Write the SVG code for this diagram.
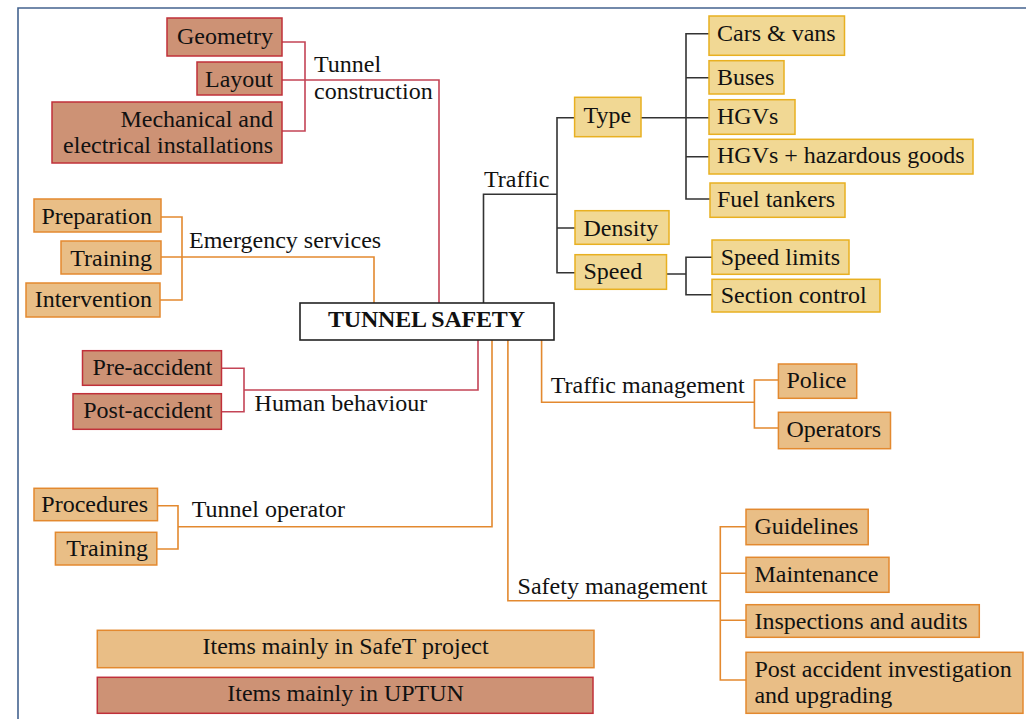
<svg xmlns="http://www.w3.org/2000/svg" width="1026" height="719" viewBox="0 0 1026 719">
  <style>
    text { font-family: "Liberation Serif", "Times New Roman", serif; font-size: 24px; fill: #111; }
    .end { text-anchor: end; }
    .mid { text-anchor: middle; }
    .red rect { fill: #CD9275; stroke: #C0303A; stroke-width: 1.5; }
    .org rect { fill: #E9BE86; stroke: #E3892F; stroke-width: 1.5; }
    .yel rect { fill: #F1D894; stroke: #E8B021; stroke-width: 1.5; }
    .ln { fill: none; stroke-width: 1.6; }
    .lr { stroke: #C44456; }
    .lo { stroke: #E3892F; }
    .lk { stroke: #333; }
  </style>

  <!-- page frame -->
  <path d="M18,719 V8 H1026" fill="none" stroke="#44638F" stroke-width="1.6"/>

  <!-- connectors -->
  <g id="connectors">
    <!-- tunnel construction -->
    <path class="ln lr" d="M282,42 H305 V131 H282"/>
    <path class="ln lr" d="M282,80 H439 V303"/>
    <!-- emergency services -->
    <path class="ln lo" d="M161,217 H182 V300 H160"/>
    <path class="ln lo" d="M161,257 H374 V303"/>
    <!-- traffic -->
    <path class="ln lk" d="M483.5,303 V194.3 H557"/>
    <path class="ln lk" d="M574.6,117.7 H557 V272.7 H575 M557,228 H575"/>
    <path class="ln lk" d="M641,117.7 H709"/>
    <path class="ln lk" d="M709,33.7 H686 V199 H710 M686,77.7 H709 M686,156.7 H709"/>
    <path class="ln lk" d="M666.5,274 H686 M712,257.3 H686 V294.7 H712"/>
    <!-- human behaviour -->
    <path class="ln lr" d="M478,340 V390 H244"/>
    <path class="ln lr" d="M221.4,368.3 H244 V411.7 H221.4"/>
    <!-- tunnel operator -->
    <path class="ln lo" d="M492,340 V526.7 H178"/>
    <path class="ln lo" d="M157.5,505.7 H178 V549 H156.8"/>
    <!-- traffic management -->
    <path class="ln lo" d="M541.6,340 V402.3 H754.4"/>
    <path class="ln lo" d="M778.4,380 H754.4 V428 H778.4"/>
    <!-- safety management -->
    <path class="ln lo" d="M507.9,340 V600.7 H720.3"/>
    <path class="ln lo" d="M746,526.7 H720.3 V680 H746 M720.3,573.3 H746 M720.3,620.3 H746"/>
  </g>

  <!-- central node -->
  <g id="tunnel-safety">
    <rect x="300" y="303" width="254" height="37" fill="#fff" stroke="#222" stroke-width="1.6"/>
    <text x="328" y="326.7" font-weight="bold" font-size="23.5" textLength="197" lengthAdjust="spacing">TUNNEL SAFETY</text>
  </g>

  <!-- branch labels -->
  <g id="label-tunnel-construction"><text x="314" y="72">Tunnel</text><text x="314" y="99">construction</text></g>
  <g id="label-emergency-services"><text x="189" y="247.7">Emergency services</text></g>
  <g id="label-traffic"><text x="484" y="186.7">Traffic</text></g>
  <g id="label-human-behaviour"><text x="254.6" y="410.7">Human behaviour</text></g>
  <g id="label-tunnel-operator"><text x="191.8" y="517.3">Tunnel operator</text></g>
  <g id="label-traffic-management"><text x="550.7" y="392.7">Traffic management</text></g>
  <g id="label-safety-management"><text x="517.6" y="594">Safety management</text></g>

  <!-- tunnel construction items -->
  <g id="geometry" class="red"><rect x="167" y="18" width="115" height="38"/><text class="end" x="273" y="43.5">Geometry</text></g>
  <g id="layout" class="red"><rect x="197" y="62" width="85" height="33"/><text class="end" x="273" y="87">Layout</text></g>
  <g id="installations" class="red"><rect x="52" y="102" width="230" height="61"/><text class="end" x="273" y="127">Mechanical and</text><text class="end" x="273" y="153">electrical installations</text></g>

  <!-- emergency services items -->
  <g id="preparation" class="org"><rect x="34" y="199" width="127" height="33"/><text class="end" x="152" y="224">Preparation</text></g>
  <g id="training-es" class="org"><rect x="61" y="241" width="100" height="33"/><text class="end" x="152" y="266">Training</text></g>
  <g id="intervention" class="org"><rect x="26" y="283" width="134" height="34"/><text class="end" x="152" y="306.7">Intervention</text></g>

  <!-- traffic items -->
  <g id="type" class="yel"><rect x="574.6" y="97.3" width="66.4" height="39.4"/><text x="583.5" y="122.7">Type</text></g>
  <g id="density" class="yel"><rect x="575" y="210.7" width="94" height="33.6"/><text x="583.5" y="235.7">Density</text></g>
  <g id="speed" class="yel"><rect x="575" y="254.7" width="91.5" height="34.6"/><text x="583.5" y="279.3">Speed</text></g>
  <g id="cars-vans" class="yel"><rect x="709" y="16" width="135.5" height="39.3"/><text x="717" y="40.7">Cars &amp; vans</text></g>
  <g id="buses" class="yel"><rect x="709" y="60.7" width="75" height="33.3"/><text x="717" y="85">Buses</text></g>
  <g id="hgvs" class="yel"><rect x="709" y="99.7" width="86" height="34.6"/><text x="717" y="124.3">HGVs</text></g>
  <g id="hgvs-hazardous" class="yel"><rect x="709" y="139.3" width="264" height="34.7"/><text x="717" y="163.3">HGVs + hazardous goods</text></g>
  <g id="fuel-tankers" class="yel"><rect x="710" y="183" width="135" height="34.3"/><text x="717" y="207.3">Fuel tankers</text></g>
  <g id="speed-limits" class="yel"><rect x="712" y="240" width="137" height="34.3"/><text x="720.7" y="265">Speed limits</text></g>
  <g id="section-control" class="yel"><rect x="712" y="279.3" width="168" height="32.7"/><text x="720.7" y="303.3">Section control</text></g>

  <!-- human behaviour items -->
  <g id="pre-accident" class="red"><rect x="82.5" y="350.7" width="139" height="34.6"/><text class="end" x="212.5" y="375">Pre-accident</text></g>
  <g id="post-accident" class="red"><rect x="73" y="393.7" width="148.4" height="35.6"/><text class="end" x="212.5" y="418.3">Post-accident</text></g>

  <!-- tunnel operator items -->
  <g id="procedures" class="org"><rect x="34" y="488.3" width="123.5" height="32.4"/><text class="end" x="148" y="511.7">Procedures</text></g>
  <g id="training-op" class="org"><rect x="55.4" y="532.3" width="101.4" height="32.7"/><text class="end" x="148" y="555.7">Training</text></g>

  <!-- traffic management items -->
  <g id="police" class="org"><rect x="778.4" y="364" width="78.3" height="34.3"/><text x="786.4" y="388.3">Police</text></g>
  <g id="operators" class="org"><rect x="778.4" y="412.3" width="112.1" height="36.4"/><text x="786.4" y="436.7">Operators</text></g>

  <!-- safety management items -->
  <g id="guidelines" class="org"><rect x="746" y="509.3" width="122.2" height="35.4"/><text x="754.4" y="534">Guidelines</text></g>
  <g id="maintenance" class="org"><rect x="746" y="557.3" width="143" height="35"/><text x="754.4" y="582.3">Maintenance</text></g>
  <g id="inspections" class="org"><rect x="746" y="604.7" width="233.3" height="32.6"/><text x="754.4" y="628.7">Inspections and audits</text></g>
  <g id="post-accident-investigation" class="org"><rect x="746" y="652.3" width="277" height="61"/><text x="754.4" y="677.3">Post accident investigation</text><text x="754.4" y="703.3">and upgrading</text></g>

  <!-- legend -->
  <g id="legend-safet" class="org"><rect x="97.3" y="630.3" width="496.7" height="37.4"/><text class="mid" x="345.6" y="654">Items mainly in SafeT project</text></g>
  <g id="legend-uptun" class="red"><rect x="97.3" y="677.3" width="495.7" height="36"/><text class="mid" x="345.6" y="701">Items mainly in UPTUN</text></g>
</svg>
